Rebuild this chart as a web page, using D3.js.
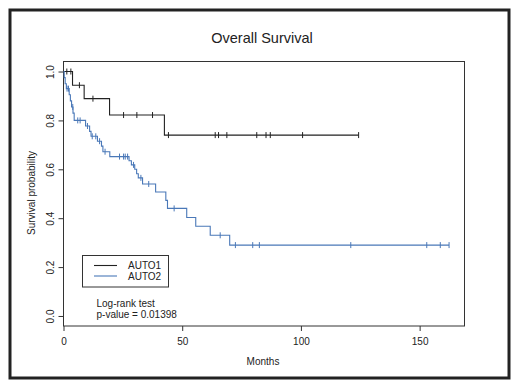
<!DOCTYPE html>
<html>
<head>
<meta charset="utf-8">
<script src="https://cdn.jsdelivr.net/npm/d3@7"></script>
<style>
  body { margin: 0; background: #fff; }
  svg text { font-family: "Liberation Sans", Arial, sans-serif; fill: #222; }
</style>
</head>
<body>
<div id="chart"></div>
<script>
// AUTO1: event times (months), survival after each event, censored times
const auto1Times = [3.8, 8.7, 19.4, 42.5];
const auto1Surv = [0.944, 0.889, 0.822, 0.740];
const auto1Censor = [1.4, 3.1, 6.7, 12.4, 25.3, 30.9, 37.5, 44.2, 63.9, 65.3, 68.8, 81.4, 85.3, 87.1, 100.7, 124.3];

// AUTO2
const auto2Times = [0.3, 0.7, 1.2, 2.4, 2.9, 3.4, 4.0, 4.5, 9.3, 11.0, 11.6, 14.3, 16.0, 16.6, 19.5,
  27.6, 28.6, 30.0, 30.8, 31.5, 33.3, 38.8, 43.1, 43.8, 51.9, 55.7, 61.8, 70.0];
const auto2Surv = [0.975, 0.95, 0.93, 0.905, 0.88, 0.855, 0.83, 0.80, 0.777, 0.755, 0.735, 0.715, 0.695, 0.672, 0.652,
  0.635, 0.618, 0.600, 0.582, 0.565, 0.540, 0.507, 0.473, 0.440, 0.403, 0.367, 0.330, 0.290];
const auto2Censor = [1.5, 2.1, 3.9, 6.0, 7.0, 10.1, 12.1, 13.6, 15.2, 17.5, 23.6, 25.3, 26.0, 27.0, 29.5, 32.6, 35.9,
  46.6, 66.0, 72.4, 79.7, 82.5, 121.0, 153.0, 158.7, 162.4];

const xTicks = [0, 50, 100, 150];
const yTicks = [0.0, 0.2, 0.4, 0.6, 0.8, 1.0];
const groupNames = ["AUTO1", "AUTO2"];
const groupColors = ["#222222", "#4a78b8"];

const W = 520, H = 386;
const margin = { left: 63.5, right: 464.5, top: 61.5, bottom: 326 };

const svg = d3.select("#chart").append("svg")
  .attr("width", W).attr("height", H);

// outer frame
svg.append("rect")
  .attr("x", 10).attr("y", 10).attr("width", 499).attr("height", 368)
  .attr("fill", "none").attr("stroke", "#222").attr("stroke-width", 3);

const x = d3.scaleLinear().domain([0, 168.9]).range([margin.left, margin.right]);
const y = d3.scaleLinear().domain([-0.041, 1.041]).range([margin.bottom, margin.top]);

// title
svg.append("text")
  .attr("x", 262).attr("y", 43)
  .attr("text-anchor", "middle")
  .attr("font-size", 14.5)
  .text("Overall Survival");

// x axis
const xAxis = svg.append("g")
  .attr("transform", `translate(0,${margin.bottom})`)
  .call(d3.axisBottom(x).tickValues(xTicks).tickSize(5).tickFormat(d3.format("d")));
xAxis.select(".domain").remove();
xAxis.selectAll("text").attr("font-size", 10).attr("dy", "0").attr("y", 19);

// y axis with rotated labels
const yAxis = svg.append("g")
  .attr("transform", `translate(${margin.left},0)`)
  .call(d3.axisLeft(y).tickValues(yTicks).tickSize(5).tickFormat(d3.format(".1f")));
yAxis.select(".domain").remove();
yAxis.selectAll("text")
  .attr("font-size", 10)
  .attr("transform", "rotate(-90)")
  .attr("x", 0).attr("y", -10).attr("dy", "0")
  .attr("text-anchor", "middle");
yAxis.selectAll("line").attr("stroke", "#333");
xAxis.selectAll("line").attr("stroke", "#333");

// axis titles
svg.append("text")
  .attr("x", 263).attr("y", 365)
  .attr("text-anchor", "middle")
  .attr("font-size", 10)
  .text("Months");
svg.append("text")
  .attr("transform", `translate(35,193) rotate(-90)`)
  .attr("text-anchor", "middle")
  .attr("font-size", 10)
  .text("Survival probability");

// plot box
svg.append("rect")
  .attr("x", margin.left).attr("y", margin.top)
  .attr("width", margin.right - margin.left).attr("height", margin.bottom - margin.top)
  .attr("fill", "none").attr("stroke", "#333").attr("stroke-width", 1);

// survival value at time t (step function)
function survAt(times, surv, t) {
  let s = 1;
  for (let i = 0; i < times.length; i++) if (times[i] <= t) s = surv[i];
  return s;
}

const groups = [
  { times: auto1Times, surv: auto1Surv, censor: auto1Censor },
  { times: auto2Times, surv: auto2Surv, censor: auto2Censor }
];

const line = d3.line()
  .x(d => x(d[0]))
  .y(d => y(d[1]))
  .curve(d3.curveStepAfter);

groups.forEach((g, gi) => {
  const end = d3.max(g.censor.concat(g.times));
  const pts = [[0, 1]].concat(g.times.map((t, i) => [t, g.surv[i]]));
  pts.push([end, survAt(g.times, g.surv, end)]);

  svg.append("path")
    .datum(pts)
    .attr("d", line)
    .attr("fill", "none")
    .attr("stroke", groupColors[gi])
    .attr("stroke-width", 1.1);

  // censor ticks
  svg.selectAll(".cens" + gi)
    .data(g.censor)
    .enter()
    .append("line")
    .attr("class", "cens" + gi)
    .attr("x1", d => x(d)).attr("x2", d => x(d))
    .attr("y1", d => y(survAt(g.times, g.surv, d)) - 3)
    .attr("y2", d => y(survAt(g.times, g.surv, d)) + 3)
    .attr("stroke", groupColors[gi])
    .attr("stroke-width", 1);
});

// legend
const leg = svg.append("g");
leg.append("rect")
  .attr("x", 82.5).attr("y", 255.5).attr("width", 86).attr("height", 31.5)
  .attr("fill", "#fff").attr("stroke", "#333").attr("stroke-width", 1);
groupNames.forEach((name, i) => {
  const ly = 265.5 + i * 10.5;
  leg.append("line")
    .attr("x1", 94).attr("x2", 117).attr("y1", ly).attr("y2", ly)
    .attr("stroke", groupColors[i]).attr("stroke-width", 1.1);
  leg.append("text")
    .attr("x", 128).attr("y", ly + 3.6)
    .attr("font-size", 10)
    .text(name);
});

// log-rank annotation
svg.append("text").attr("x", 96.5).attr("y", 307).attr("font-size", 10).text("Log-rank test");
svg.append("text").attr("x", 96.5).attr("y", 317.5).attr("font-size", 10).text("p-value = 0.01398");
</script>
</body>
</html>
